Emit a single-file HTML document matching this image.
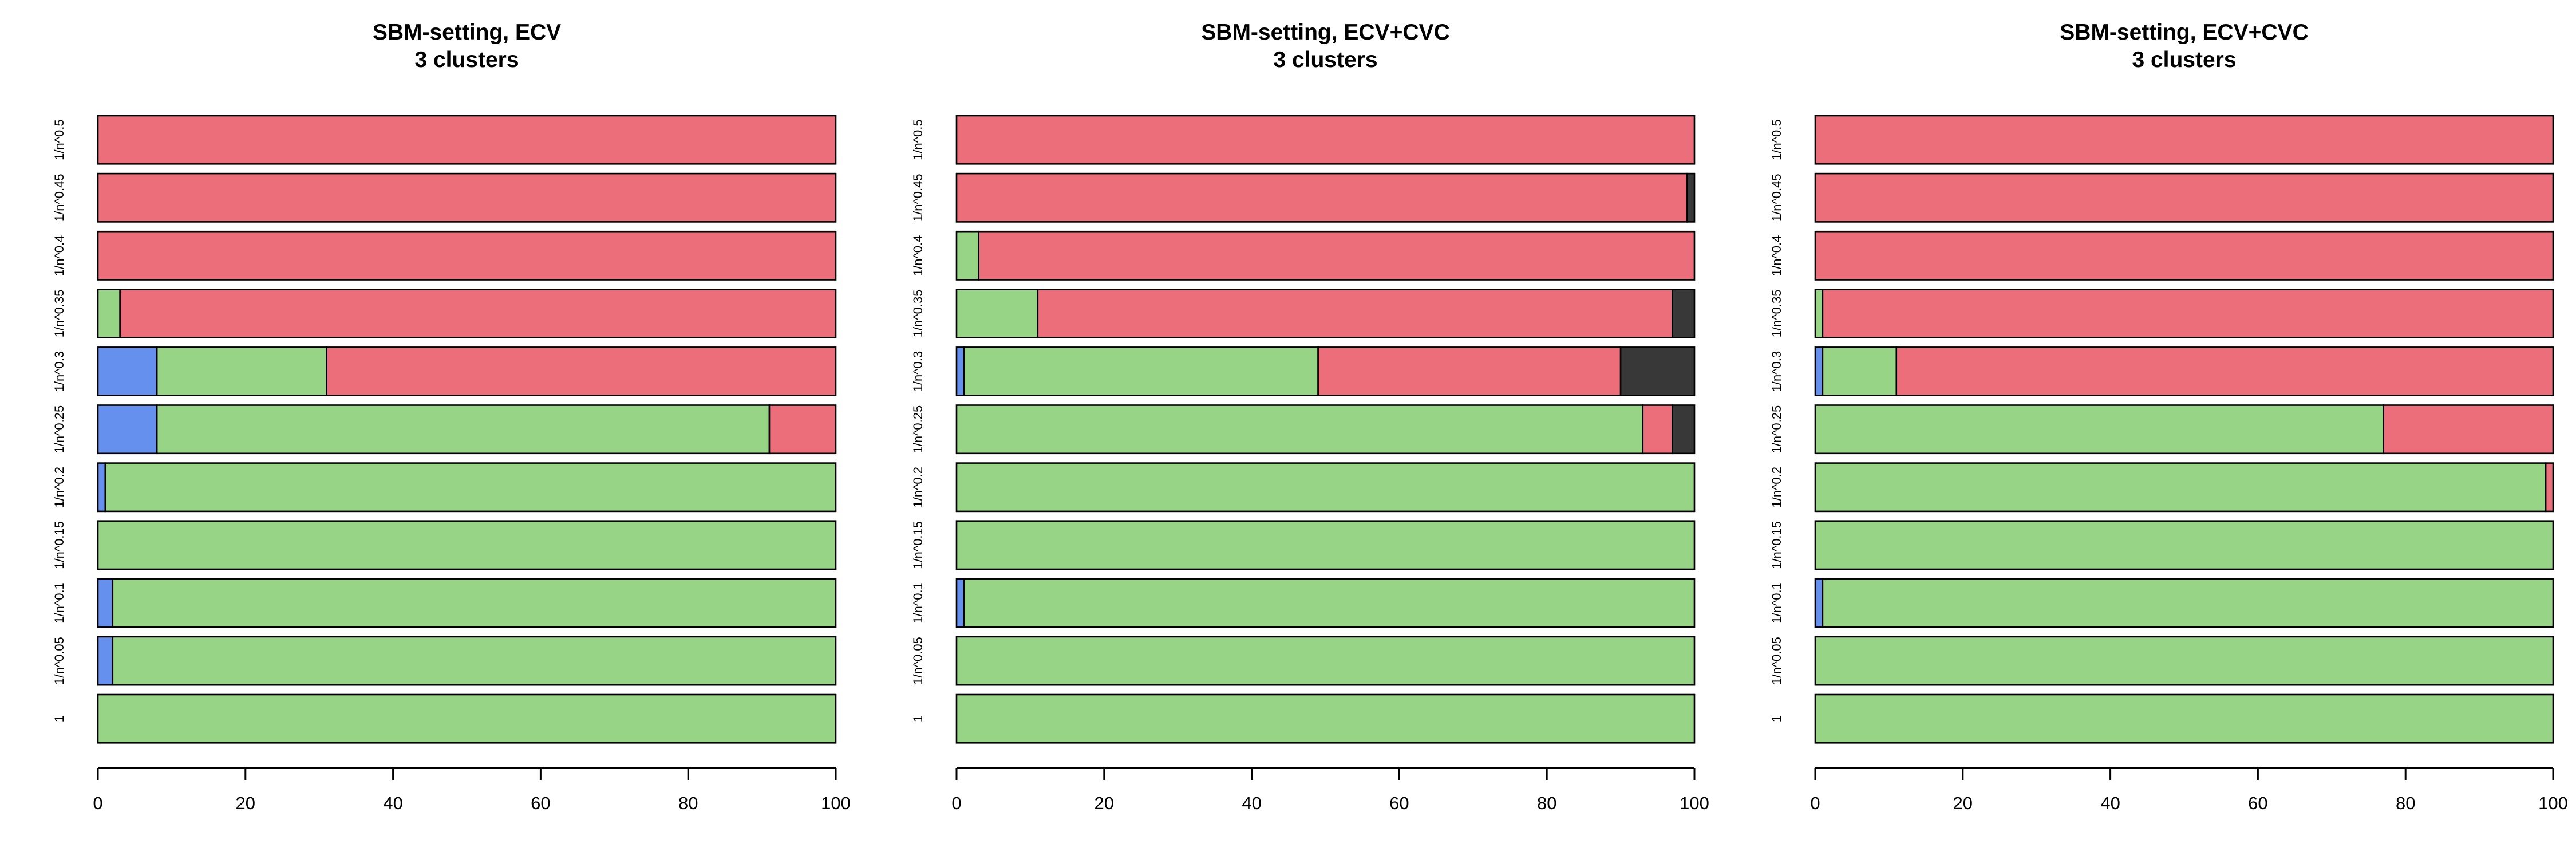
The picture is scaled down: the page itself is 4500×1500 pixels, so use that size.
<!DOCTYPE html>
<html><head><meta charset="utf-8"><style>
html,body{margin:0;padding:0;background:#fff;}
svg{display:block;font-family:"Liberation Sans",sans-serif;}
</style></head><body>
<svg id="chart" width="4500" height="1500" viewBox="0 0 4500 1500" xmlns="http://www.w3.org/2000/svg"></svg>
<script>
const categories = ["1/n^0.5","1/n^0.45","1/n^0.4","1/n^0.35","1/n^0.3","1/n^0.25","1/n^0.2","1/n^0.15","1/n^0.1","1/n^0.05","1"];
const titles = ["SBM-setting, ECV","SBM-setting, ECV+CVC","SBM-setting, ECV+CVC"];
const subtitle = "3 clusters";
const xTicks = [0,20,40,60,80,100];
// per panel, per row: [blue, green, red, black]
const p1Blue  = [0,0,0,0,8,8,1,0,2,2,0];
const p1Green = [0,0,0,3,23,83,99,100,98,98,100];
const p1Red   = [100,100,100,97,69,9,0,0,0,0,0];
const p1Black = [0,0,0,0,0,0,0,0,0,0,0];
const p2Blue  = [0,0,0,0,1,0,0,0,1,0,0];
const p2Green = [0,0,3,11,48,93,100,100,99,100,100];
const p2Red   = [100,99,97,86,41,4,0,0,0,0,0];
const p2Black = [0,1,0,3,10,3,0,0,0,0,0];
const p3Blue  = [0,0,0,0,1,0,0,0,1,0,0];
const p3Green = [0,0,0,1,10,77,99,100,99,100,100];
const p3Red   = [100,100,100,99,89,23,1,0,0,0,0];
const p3Black = [0,0,0,0,0,0,0,0,0,0,0];

const panels = [[p1Blue,p1Green,p1Red,p1Black],[p2Blue,p2Green,p2Red,p2Black],[p3Blue,p3Green,p3Red,p3Black]];
const colors = ["#6690EE","#98D486","#EB6E7A","#383838"];
const segNames = ["blue","green","red","black"];
const NS = "http://www.w3.org/2000/svg";
const svg = document.getElementById('chart');
function mk(tag, attrs, parent){const e=document.createElementNS(NS,tag);for(const k in attrs)e.setAttribute(k,attrs[k]);(parent||svg).appendChild(e);return e;}

const top0 = 202, pitch = 101.1, barH = 84.3;
panels.forEach((series, pi) => {
  const off = pi*1500;
  const x0 = 171+off, x1 = 1460+off;
  const xs = v => x0 + (x1-x0)*v/100;
  const yb = i => top0 + i*pitch;
  const g = mk('g', {});
  
  
  const t1 = mk('text', {x:(x0+x1)/2, y:69, 'text-anchor':'middle', 'font-size':39, 'font-weight':'bold'}, g);
  
  
  t1.textContent = titles[pi];
  const t2 = mk('text', {x:(x0+x1)/2, y:117, 'text-anchor':'middle', 'font-size':39, 'font-weight':'bold'}, g);
  
  
  t2.textContent = subtitle;
  categories.forEach((cat, i) => {
    let cum = 0;
    const y = yb(i);
    series.forEach((arr, si) => {
      const v = arr[i];
      if (v <= 0) return;
      const r = mk('rect', {x:xs(cum), y:y, width:xs(cum+v)-xs(cum), height:barH, fill:colors[si], stroke:'#000', 'stroke-width':2.6}, g);
      
      
      cum += v;
    });
    const cy = y + barH/2;
    const lab = mk('text', {x:0, y:0, 'text-anchor':'middle', 'font-size':22, transform:`translate(${111+off},${cy}) rotate(-90)`}, g);
    
    
    lab.textContent = cat;
  });
  const ax = mk('line', {x1:x0, y1:1341.5, x2:x1, y2:1341.5, stroke:'#000', 'stroke-width':3}, g);
  
  
  xTicks.forEach(t => {
    const tk = mk('line', {x1:xs(t), y1:1341, x2:xs(t), y2:1362, stroke:'#000', 'stroke-width':3}, g);
    
    
    const tl = mk('text', {x:xs(t), y:1413, 'text-anchor':'middle', 'font-size':31}, g);
    
    
    tl.textContent = t;
  });
});
</script>
</body></html>
